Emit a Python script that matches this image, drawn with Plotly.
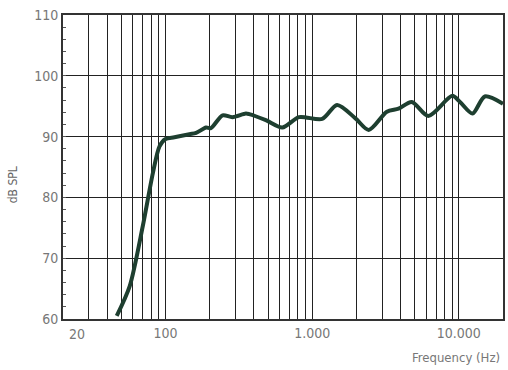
import plotly.graph_objects as go

# Frequency response readings
freq_hz = [46.5, 57, 70, 82, 91, 100, 115, 145.6, 161.7,
           189, 204, 245, 286, 353, 372, 483, 626, 813, 1170, 1478, 1972, 2428,
           3230, 3880, 4776, 6200, 9020, 10180, 12400, 15030, 20000]
spl_db = [60.5, 65.4, 75.3, 84.0, 88.4, 89.6, 89.9, 90.4, 90.6,
          91.5, 91.4, 93.5, 93.2, 93.8, 93.7, 92.7, 91.5, 93.2, 92.9, 95.2, 93.0, 91.1,
          94.1, 94.6, 95.7, 93.4, 96.7, 95.7, 93.8, 96.6, 95.4]

# Log grid positions and the labels shown under them
grid_freqs = [20, 30, 40, 50, 60, 70, 80, 90,
              100, 200, 300, 400, 500, 600, 700, 800, 900,
              1000, 2000, 3000, 4000, 5000, 6000, 7000, 8000, 9000,
              10000, 20000]
freq_labels = {100: "100", 1000: "1.000", 10000: "10.000"}
first_label = "20"
spl_ticks = [60, 70, 80, 90, 100, 110]

tick_text = [freq_labels.get(f, "") for f in grid_freqs]

label_font = dict(family="DejaVu Sans Condensed, Liberation Sans Narrow, Arial", size=14, color="#777777")

fig = go.Figure()
fig.add_trace(go.Scatter(
    x=freq_hz, y=spl_db, mode="lines",
    line=dict(color="#1e3f30", width=4, shape="spline", smoothing=0.8),
    hoverinfo="skip", showlegend=False,
))

fig.update_xaxes(
    type="log", range=[1.30103, 4.30103],
    tickvals=grid_freqs, ticktext=tick_text,
    showgrid=True, gridcolor="#222222", gridwidth=1.3,
    showline=True, linecolor="#333333", linewidth=2, mirror=True,
    ticks="", tickfont=label_font, zeroline=False,
)
fig.update_yaxes(
    range=[60, 110], tickvals=spl_ticks,
    showgrid=True, gridcolor="#222222", gridwidth=1.3,
    showline=True, linecolor="#333333", linewidth=2, mirror=True,
    ticks="inside", ticklen=3, tickcolor="#555555",
    minor=dict(dtick=2, ticks="inside", ticklen=3, tickcolor="#555555", showgrid=False),
    tickfont=label_font, zeroline=False,
)

fig.add_annotation(
    x=1.30103, y=0, xref="x", yref="paper", yshift=-15,
    text=first_label, showarrow=False, xanchor="left", yanchor="middle", xshift=4,
    font=label_font,
)
fig.add_annotation(
    x=1, y=0, xref="paper", yref="paper", yshift=-38, xshift=-1,
    text="Frequency (Hz)", showarrow=False, xanchor="right", yanchor="middle",
    font=dict(family=label_font["family"], size=13, color="#777777"),
)
fig.add_annotation(
    x=0, y=0.44, xref="paper", yref="paper", xshift=-50,
    text="dB SPL", showarrow=False, textangle=-90, xanchor="center", yanchor="middle",
    font=dict(family=label_font["family"], size=12, color="#666666"),
)

fig.update_layout(
    width=508, height=370,
    margin=dict(l=63, r=3, t=15, b=51),
    paper_bgcolor="white", plot_bgcolor="white",
)

fig.write_html("out.html")
